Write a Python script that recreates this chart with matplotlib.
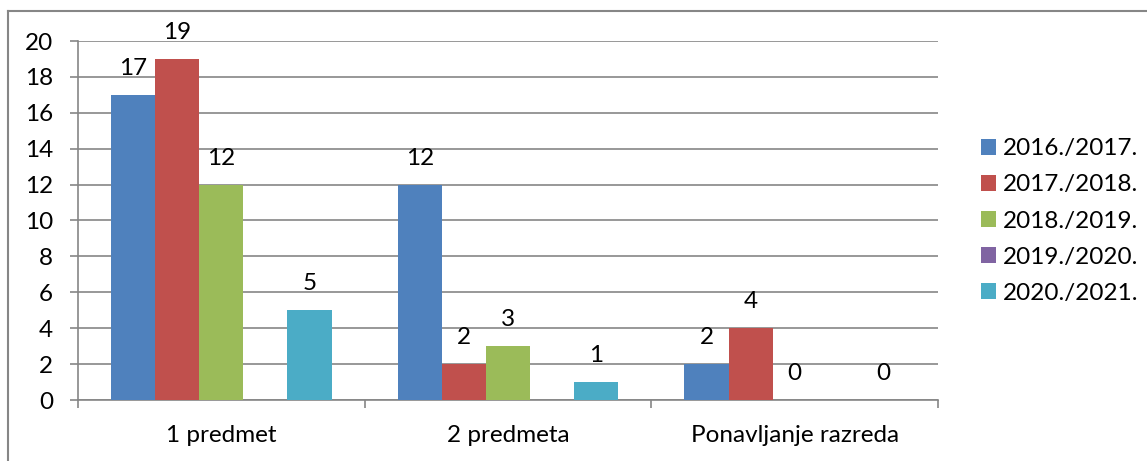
import matplotlib
matplotlib.use("Agg")
import matplotlib.pyplot as plt
import numpy as np
from matplotlib.patches import Patch
from matplotlib.lines import Line2D

plt.rcParams["font.family"] = ["Lato", "DejaVu Sans"]

categories = ["1 predmet", "2 predmeta", "Ponavljanje razreda"]
series_names = ["2016./2017.", "2017./2018.", "2018./2019.", "2019./2020.", "2020./2021."]
values = [
    [17, 12, 2],
    [19, 2, 4],
    [12, 3, 0],
    [np.nan, np.nan, np.nan],
    [5, 1, 0],
]
colors = ["#4F81BD", "#C0504D", "#9BBB59", "#8064A2", "#4BACC6"]

fs = 17.5
grid_col = "#868686"

fig = plt.figure(figsize=(11.47, 4.61), dpi=100)
ax = fig.add_axes([78 / 1147, 1 - 400 / 461, (938 - 78) / 1147, (400 - 41) / 461])

n = len(series_names)
w = 1 / 6.5
centers = np.arange(len(categories)) + 0.5
for i, (name, vals, col) in enumerate(zip(series_names, values, colors)):
    xs = centers + (i - (n - 1) / 2) * w
    vals = np.array(vals, dtype=float)
    ax.bar(xs, np.nan_to_num(vals), width=w, color=col, zorder=3)
    for x, v in zip(xs, vals):
        if np.isnan(v):
            continue
        ax.annotate(f"{int(v)}", (x, v), xytext=(0, 19), textcoords="offset points",
                    ha="center", va="center", fontsize=fs, color="black")

ax.set_xlim(0, 3)
ax.set_ylim(0, 20)
ax.set_yticks(range(0, 21, 2))
ax.set_xticks(centers)
ax.set_xticklabels(categories)
ax.set_xticks([0, 1, 2, 3], minor=True)
ax.tick_params(axis="x", which="major", length=0, pad=18, labelsize=fs)
ax.tick_params(axis="x", which="minor", length=6, width=1.2, color=grid_col, direction="out")
ax.tick_params(axis="y", length=6, width=1.2, color=grid_col, pad=12, labelsize=fs)
ax.grid(axis="y", color=grid_col, linewidth=1.2, zorder=0)
for s in ["top", "right"]:
    ax.spines[s].set_visible(False)
for s in ["left", "bottom"]:
    ax.spines[s].set_color(grid_col)
    ax.spines[s].set_linewidth(1.2)

handles = [Patch(facecolor=c, edgecolor="none") for c in colors]
leg = fig.legend(handles, series_names, loc="center left", bbox_to_anchor=(981 / 1147, 1 - 221 / 461),
                 frameon=False, fontsize=fs, handlelength=0.6, handleheight=0.6,
                 handletextpad=0.3, labelspacing=0.62, borderpad=0, borderaxespad=0)

# outer chart border (top and left)
fig.add_artist(Line2D([8 / 1147, 1], [1 - 11 / 461] * 2, color=grid_col, lw=1.5, transform=fig.transFigure))
fig.add_artist(Line2D([8 / 1147] * 2, [0, 1 - 11 / 461], color=grid_col, lw=1.5, transform=fig.transFigure))

fig.savefig("out.png", dpi=100)
